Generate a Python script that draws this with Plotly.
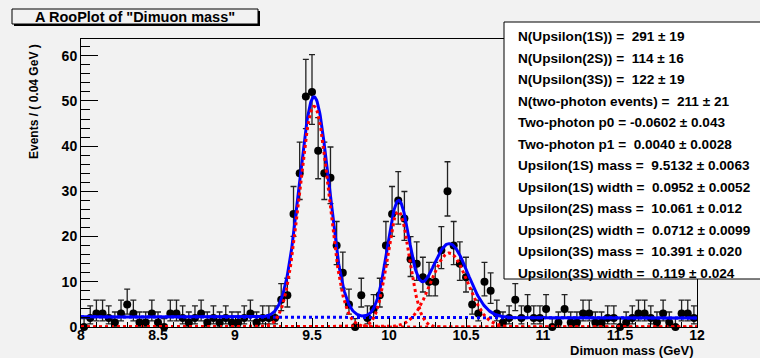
import numpy as np
import plotly.graph_objects as go

# ---------------- data ----------------
x_min, x_max, bin_width = 8.0, 12.0, 0.04
counts = [0, 2, 3, 3, 2, 1, 3, 5, 3, 1,
          1, 3, 1, 0, 3, 3, 2, 1, 2, 3,
          1, 2, 1, 2, 1, 1, 2, 3, 1, 2,
          2, 2, 6, 7, 25, 34, 51, 52, 39, 34,
          33, 18, 12, 5, 0, 7, 2, 4, 7, 18,
          25, 28, 24, 15, 14, 11, 10, 10, 17, 30,
          18, 14, 11, 5, 3, 10, 8, 3, 1, 2,
          6, 2, 4, 2, 2, 4, 0, 1, 4, 1,
          1, 3, 3, 1, 1, 2, 2, 0, 1, 2,
          3, 3, 2, 1, 3, 1, 0, 3, 3, 2]

# fit parameters (as printed in the box)
n_signal = [291, 114, 122]
n_bkg = 211
bkg_p0, bkg_p1 = -0.0602, 0.0040
peak_mass = [9.5132, 10.061, 10.391]
peak_width = [0.0952, 0.0712, 0.119]

param_lines = [
    "N(Upsilon(1S)) =  291 ± 19",
    "N(Upsilon(2S)) =  114 ± 16",
    "N(Upsilon(3S)) =  122 ± 19",
    "N(two-photon events) =  211 ± 21",
    "Two-photon p0 = -0.0602 ± 0.043",
    "Two-photon p1 =  0.0040 ± 0.0028",
    "Upsilon(1S) mass =  9.5132 ± 0.0063",
    "Upsilon(1S) width =  0.0952 ± 0.0052",
    "Upsilon(2S) mass =  10.061 ± 0.012",
    "Upsilon(2S) width =  0.0712 ± 0.0099",
    "Upsilon(3S) mass =  10.391 ± 0.020",
    "Upsilon(3S) width =  0.119 ± 0.024",
]
plot_title = 'A RooPlot of "Dimuon mass"'
x_title = "Dimuon mass (GeV)"
y_title = "Events / ( 0.04 GeV )"

# ---------------- derived ----------------
n_bins = len(counts)
centers = x_min + bin_width * (np.arange(n_bins) + 0.5)
n = np.array(counts, dtype=float)
# Poisson (Gehrels) 68% intervals
upper = 1 + np.sqrt(n + 0.75)
nn = np.maximum(n, 1)
lower = np.where(n > 0, n - n * (1 - 1 / (9 * nn) - 1 / (3 * np.sqrt(nn))) ** 3, 0)

xs = np.linspace(x_min, x_max, 1201)
def gauss(x, m, s):
    return np.exp(-0.5 * ((x - m) / s) ** 2) / (s * np.sqrt(2 * np.pi))

comps = [N * bin_width * gauss(xs, m, s) for N, m, s in zip(n_signal, peak_mass, peak_width)]
u = (2 * xs - (x_min + x_max)) / (x_max - x_min)
cheb = 1 + bkg_p0 * u + bkg_p1 * (2 * u ** 2 - 1)
cheb_norm = (x_max - x_min) / 2 * (2 - 2 * bkg_p1 / 3)
bkg = n_bkg * bin_width * cheb / cheb_norm
total = bkg + sum(comps)

# ---------------- figure ----------------
BG = "#f2f2f2"
L, R, T, B = 81, 697, 39, 327
W, H = 760, 358
def px(xp):
    return (xp - L) / (R - L)
def py(yp):
    return (B - yp) / (B - T)

fig = go.Figure()
fig.add_trace(go.Scatter(
    x=centers, y=n, mode="markers",
    marker=dict(color="black", size=8),
    error_y=dict(type="data", symmetric=False, array=upper, arrayminus=lower,
                 color="#222222", thickness=1.3, width=3),
    cliponaxis=False, hoverinfo="skip"))
fig.add_trace(go.Scatter(x=xs, y=total, mode="lines",
                         line=dict(color="#0000ff", width=3)))
fig.add_trace(go.Scatter(x=xs, y=bkg, mode="lines",
                         line=dict(color="#0000ff", width=3, dash="dot")))
for c in comps:
    fig.add_trace(go.Scatter(x=xs, y=c, mode="lines",
                             line=dict(color="#ff0000", width=3, dash="dot")))

tickfont = dict(family="Liberation Sans", size=14, color="black", weight="bold")
fig.update_layout(
    width=W, height=H, margin=dict(l=L, r=W - R, t=T, b=H - B),
    paper_bgcolor=BG, plot_bgcolor=BG, showlegend=False,
    xaxis=dict(range=[x_min, x_max], tick0=8, dtick=0.5, ticks="inside", ticklen=9,
               tickcolor="black", showline=True, linecolor="black", linewidth=1,
               mirror=True, showgrid=False, zeroline=False, tickfont=tickfont,
               ticklabelstandoff=-5,
               minor=dict(ticks="inside", dtick=0.1, tick0=8, ticklen=5,
                          tickcolor="black", showgrid=False)),
    yaxis=dict(range=[0, 63.7], tick0=0, dtick=10, ticks="inside", ticklen=17,
               tickcolor="black", showline=True, linecolor="black", linewidth=1,
               mirror=True, showgrid=False, zeroline=True, zerolinecolor="#a01010",
               zerolinewidth=3, tickfont=tickfont,
               minor=dict(ticks="inside", dtick=2, ticklen=9, tickcolor="black",
                          showgrid=False)),
)

shapes = [
    # title box shadow + box
    dict(type="rect", xref="paper", yref="paper", x0=px(14), x1=px(260), y0=py(11), y1=py(26),
         fillcolor="black", line=dict(width=0), layer="above"),
    dict(type="rect", xref="paper", yref="paper", x0=px(12), x1=px(258), y0=py(9), y1=py(24),
         fillcolor=BG, line=dict(color="black", width=1), layer="above"),
    # parameter box
    dict(type="rect", xref="paper", yref="paper", x0=px(504), x1=px(765), y0=py(22), y1=py(279),
         fillcolor="white", line=dict(color="black", width=1), layer="above"),
]
fig.update_layout(shapes=shapes)

ann = [
    dict(text=plot_title, x=px(135), y=py(16.5), xanchor="center", yanchor="middle",
         font=dict(family="Liberation Sans", size=14.5, color="black", weight="bold")),
    dict(text=y_title, x=px(34), y=py(102), xanchor="center", yanchor="middle", textangle=-90,
         font=dict(family="Liberation Sans", size=12, color="black", weight="bold")),
    dict(text=x_title, x=px(696), y=py(350), xanchor="right", yanchor="middle",
         font=dict(family="Liberation Sans", size=13, color="black", weight="bold")),
]
for k, s in enumerate(param_lines):
    ann.append(dict(text=s, x=px(516), y=py(36.7 + 21.5 * k), xanchor="left", yanchor="middle",
                    font=dict(family="Liberation Sans", size=13.6, color="black", weight="bold")))
for a in ann:
    a.update(xref="paper", yref="paper", showarrow=False)
fig.update_layout(annotations=ann)

fig.write_html("out.html",
               config={"displayModeBar": False},
               post_script="document.body.style.margin='0px';"
                           "document.body.style.background='#f2f2f2';")
